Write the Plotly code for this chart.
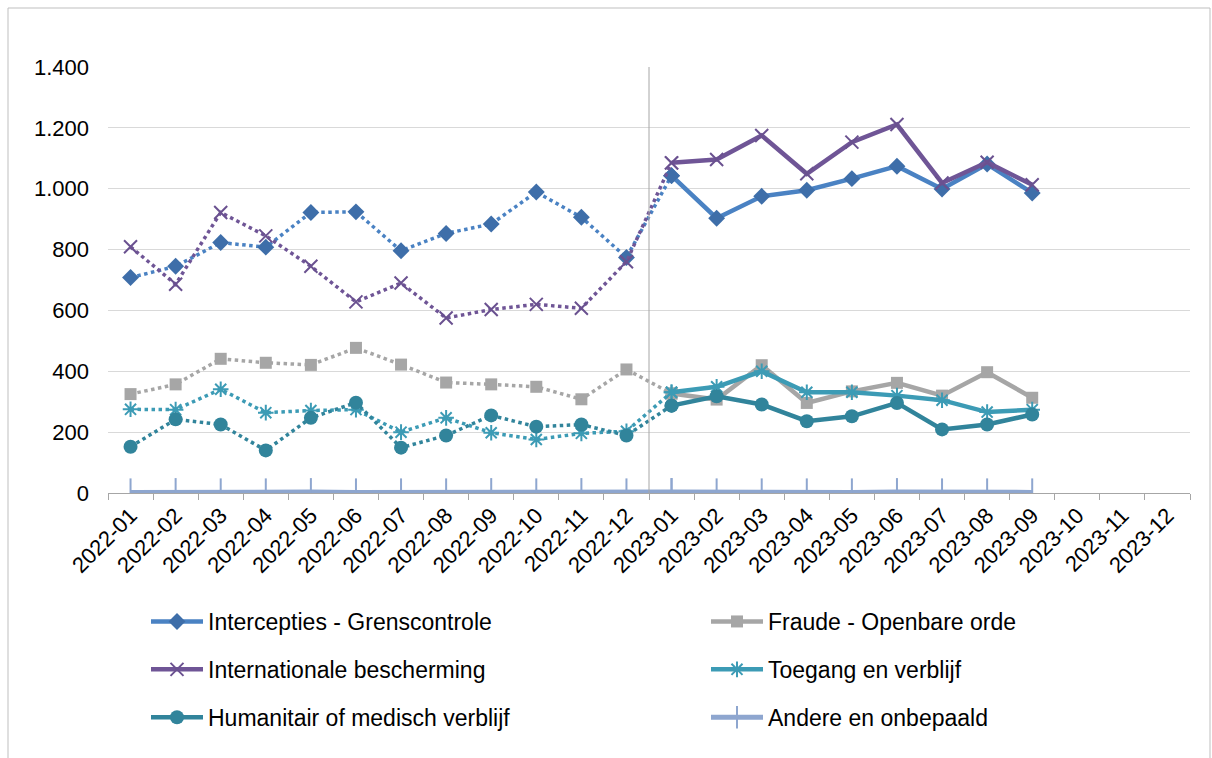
import plotly.graph_objects as go

months = ["2022-01","2022-02","2022-03","2022-04","2022-05","2022-06","2022-07","2022-08",
          "2022-09","2022-10","2022-11","2022-12","2023-01","2023-02","2023-03","2023-04",
          "2023-05","2023-06","2023-07","2023-08","2023-09","2023-10","2023-11","2023-12"]

intercepties = [708, 745, 823, 808, 922, 924, 796, 853, 884, 989, 906, 774,
                1043, 903, 975, 995, 1033, 1074, 999, 1081, 986]
internationale = [809, 686, 922, 845, 745, 628, 690, 575, 603, 620, 607, 760,
                  1085, 1096, 1175, 1049, 1153, 1211, 1019, 1087, 1013]
fraude = [325, 357, 441, 428, 421, 477, 422, 363, 357, 349, 308, 406,
          327, 307, 420, 296, 334, 362, 320, 397, 313]
toegang = [275, 274, 341, 264, 271, 274, 200, 247, 198, 176, 196, 203,
           331, 349, 400, 331, 331, 320, 305, 266, 274]
humanitair = [152, 242, 225, 140, 247, 297, 149, 189, 255, 218, 225, 189,
              287, 318, 291, 236, 252, 296, 209, 225, 258]
andere = [2, 3, 2, 2, 3, 2, 2, 2, 3, 2, 3, 2,
          3, 2, 2, 2, 2, 3, 2, 2, 2]

series = [
    ("Intercepties - Grenscontrole", intercepties, "#4A82C3", "#3E6EA9", "diamond", 13, "legend"),
    ("Fraude - Openbare orde", fraude, "#A6A6A6", "#A6A6A6", "square", 12, "legend2"),
    ("Internationale bescherming", internationale, "#6F5596", "#6A5190", "x-thin", 13, "legend"),
    ("Toegang en verblijf", toegang, "#3C9BB5", "#3C9BB5", "asterisk", 13, "legend2"),
    ("Humanitair of medisch verblijf", humanitair, "#31849B", "#31849B", "circle", 14, "legend"),
    ("Andere en onbepaald", andere, "#8EA6CF", "#8EA6CF", "line-ns", 20, "legend2"),
]

fig = go.Figure()
split = 12
for name, vals, lc, mc, sym, ms, leg in series:
    thin = sym in ("x-thin", "asterisk", "line-ns")
    marker = dict(symbol=sym, size=ms, color=mc,
                  line=dict(color=mc, width=2 if thin else 0))
    x1 = months[:split + 1]
    y1 = vals[:split + 1]
    if name.startswith("Andere"):
        dotted = dict(color=lc, width=5)
        solid = dict(color=lc, width=5)
    else:
        dotted = dict(color=lc, width=3.5, dash="dot")
        solid = dict(color=lc, width=4.5)
    fig.add_trace(go.Scatter(x=x1, y=y1, mode="lines+markers", line=dotted, marker=marker,
                             name=name, legendgroup=name, showlegend=False, legend=leg))
    fig.add_trace(go.Scatter(x=months[split:len(vals)], y=vals[split:], mode="lines+markers",
                             line=solid, marker=marker, name=name, legendgroup=name,
                             showlegend=True, legend=leg))

W, H = 1212, 758
L, R, T, B = 108, 22, 67, 265
pw, ph = W - L - R, H - T - B

def px_x(px):
    return (px - L) / pw

def px_y(py):
    return (H - B - py) / ph

fig.add_shape(type="line", xref="x", yref="y", x0=11.5, x1=11.5, y0=0, y1=1400,
              line=dict(color="#A6A6A6", width=1))
fig.add_shape(type="rect", xref="paper", yref="paper",
              x0=px_x(8), x1=px_x(1210), y0=px_y(8), y1=px_y(800),
              line=dict(color="#BFBFBF", width=1))

font = "Arial, Liberation Sans, sans-serif"
fig.update_layout(
    width=W, height=H,
    margin=dict(l=L, r=R, t=T, b=B),
    paper_bgcolor="white", plot_bgcolor="white",
    separators=",.",
    font=dict(family=font, size=22, color="black"),
    xaxis=dict(type="category", categoryorder="array", categoryarray=months,
               range=[-0.5, 23.5], tickangle=-45, tickfont=dict(size=22),
               showline=True, linecolor="#A6A6A6", linewidth=1,
               ticks="outside", tickson="boundaries", ticklen=6, tickcolor="#A6A6A6",
               showgrid=False, zeroline=False),
    yaxis=dict(range=[0, 1400], dtick=200, tickformat=",.0f",
               showgrid=True, gridcolor="#D9D9D9", gridwidth=1,
               zeroline=False, showline=False, ticks="", ticklabelstandoff=18,
               tickfont=dict(size=22)),
    legend=dict(x=px_x(146), y=px_y(600), xanchor="left", yanchor="top",
                orientation="v", tracegroupgap=15, font=dict(size=23),
                itemwidth=52, bgcolor="rgba(0,0,0,0)"),
    legend2=dict(x=px_x(706), y=px_y(600), xanchor="left", yanchor="top",
                 orientation="v", tracegroupgap=15, font=dict(size=23),
                 itemwidth=52, bgcolor="rgba(0,0,0,0)"),
)

fig.write_html("out.html", config={"displayModeBar": False},
               post_script="document.body.style.margin='0';")
